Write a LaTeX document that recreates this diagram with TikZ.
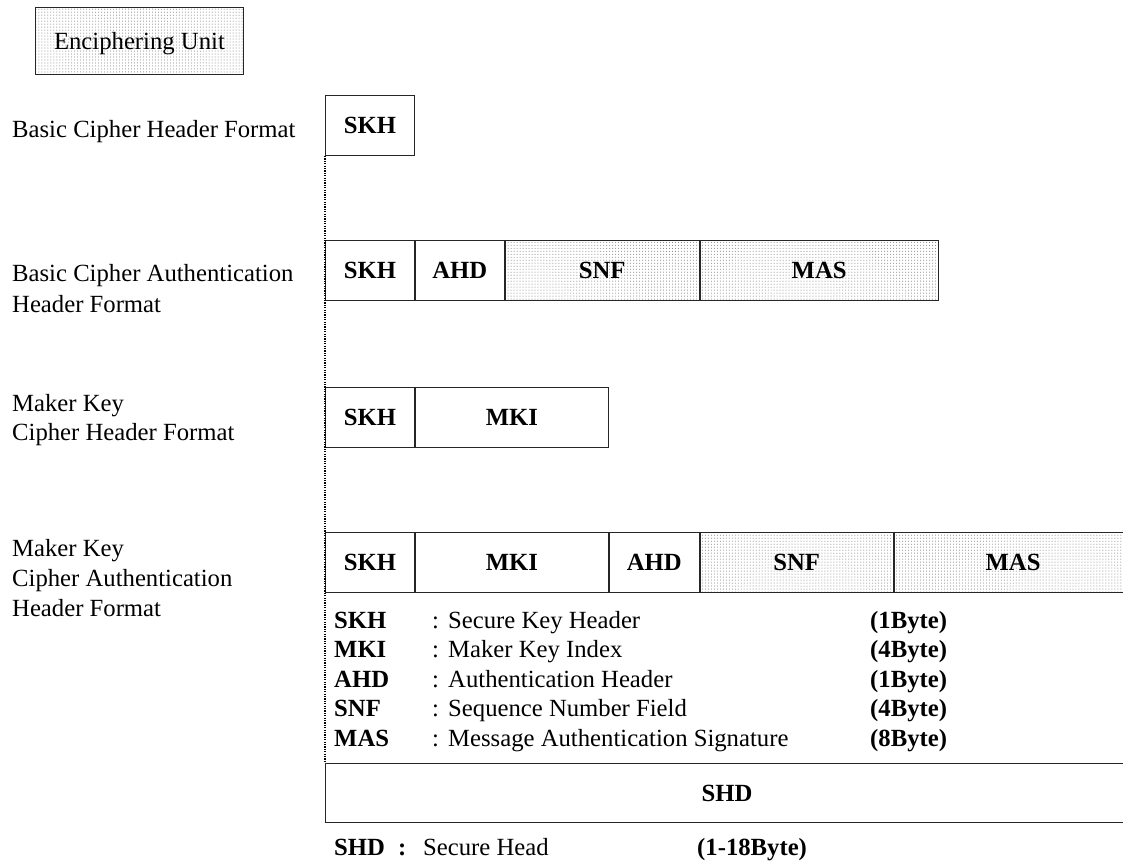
\documentclass[tikz,border=0pt]{standalone}
\usepackage{fontspec}
\setmainfont{Liberation Serif}
\usetikzlibrary{patterns}
\newcommand\myfs{\fontsize{24.7bp}{30bp}\selectfont}
\begin{document}
\begin{tikzpicture}[x=1bp,y=-1bp,
  fld/.style={draw=black!85, line width=0.9bp, minimum height=60bp, inner sep=0pt,
    text height=17bp, text depth=0bp, font=\myfs\bfseries, anchor=north west},
  dotfill/.style={pattern=dots, pattern color=black!55},
  lbl/.style={anchor=base west, inner sep=0pt, font=\myfs},
  blbl/.style={anchor=base west, inner sep=0pt, font=\myfs\bfseries},
  guide/.style={dash pattern=on 1.2bp off 1.2bp, line width=1.3bp, draw=black}]
\useasboundingbox (0,0) rectangle (1123,861);
\clip (0,0) rectangle (1123,861);

% legend box
\node[fld, dotfill, font=\myfs, minimum width=208bp, minimum height=67bp] (eu) at (35,7) {Enciphering Unit};

% row 1
\node[lbl] (l1) at (12,137) {Basic Cipher Header Format};
\node[fld, minimum width=89bp] (r1a) at (325,95) {SKH};

% row 2
\node[lbl] (l2a) at (12,281) {Basic Cipher Authentication};
\node[lbl] (l2b) at (12,312) {Header Format};
\node[fld, minimum width=89bp] (r2a) at (325,240) {SKH};
\node[fld, minimum width=89bp] (r2b) at (r2a.north east) {AHD};
\node[fld, dotfill, minimum width=194bp] (r2c) at (r2b.north east) {SNF};
\node[fld, dotfill, minimum width=238bp] (r2d) at (r2c.north east) {MAS};

% row 3
\node[lbl] (l3a) at (12,411) {Maker Key};
\node[lbl] (l3b) at (12,440) {Cipher Header Format};
\node[fld, minimum width=89bp] (r3a) at (325,387) {SKH};
\node[fld, minimum width=193bp] (r3b) at (r3a.north east) {MKI};

% row 4
\node[lbl] (l4a) at (12,556) {Maker Key};
\node[lbl] (l4b) at (12,586) {Cipher Authentication};
\node[lbl] (l4c) at (12,616) {Header Format};
\node[fld, minimum width=89bp] (r4a) at (325,532) {SKH};
\node[fld, minimum width=193bp] (r4b) at (r4a.north east) {MKI};
\node[fld, minimum width=90bp] (r4c) at (r4b.north east) {AHD};
\node[fld, dotfill, minimum width=193bp] (r4d) at (r4c.north east) {SNF};
\node[fld, dotfill, minimum width=238bp] (r4e) at (r4d.north east) {MAS};

% legend
\node[blbl] (k1) at (334,628) {SKH};
\node[lbl]  (c1) at (432,628) {:};
\node[lbl]  (d1) at (448,628) {Secure Key Header};
\node[blbl] (b1) at (870,628) {(1Byte)};
\node[blbl] (k2) at (334,657.5) {MKI};
\node[lbl]  (c2) at (432,657.5) {:};
\node[lbl]  (d2) at (448,657.5) {Maker Key Index};
\node[blbl] (b2) at (870,657.5) {(4Byte)};
\node[blbl] (k3) at (334,687) {AHD};
\node[lbl]  (c3) at (432,687) {:};
\node[lbl]  (d3) at (448,687) {Authentication Header};
\node[blbl] (b3) at (870,687) {(1Byte)};
\node[blbl] (k4) at (334,716.5) {SNF};
\node[lbl]  (c4) at (432,716.5) {:};
\node[lbl]  (d4) at (448,716.5) {Sequence Number Field};
\node[blbl] (b4) at (870,716.5) {(4Byte)};
\node[blbl] (k5) at (334,746) {MAS};
\node[lbl]  (c5) at (432,746) {:};
\node[lbl]  (d5) at (448,746) {Message Authentication Signature};
\node[blbl] (b5) at (870,746) {(8Byte)};

% SHD
\node[fld, minimum width=803bp, minimum height=59bp] (shd) at (325,763) {SHD};
\node[blbl] (k6) at (334,855) {SHD};
\node[blbl] (c6) at (398,855) {:};
\node[lbl]  (d6) at (423,855) {Secure Head};
\node[blbl] (b6) at (697,855) {(1-18Byte)};

% dotted guide
\draw[guide] (r1a.south west) -- (shd.north west);
\end{tikzpicture}
\end{document}
